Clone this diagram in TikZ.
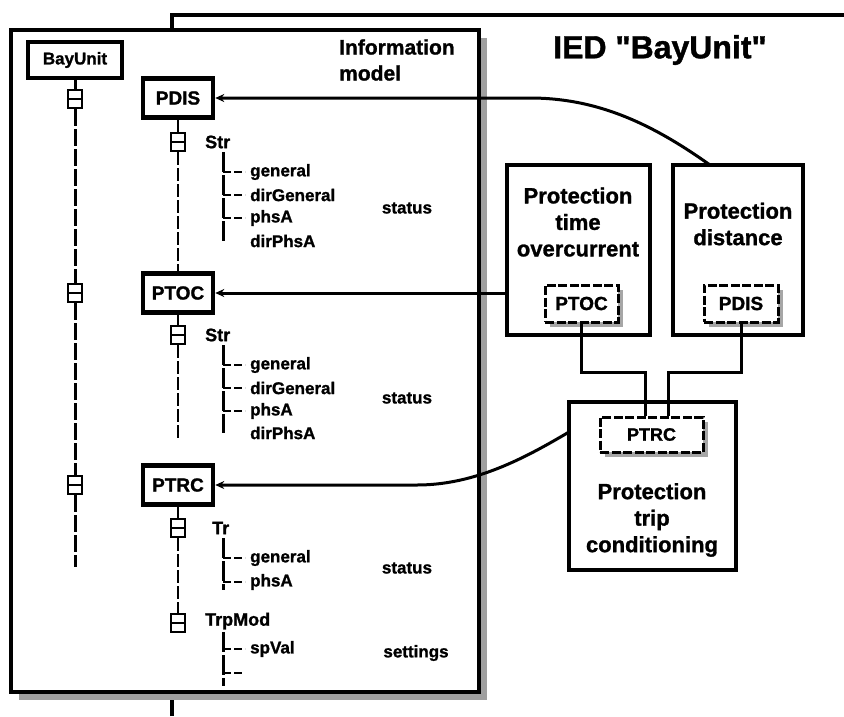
\documentclass[tikz,border=0pt]{standalone}
\usepackage{fontspec}
\setmainfont{Liberation Sans}[BoldFeatures={FakeBold=1.2}]
\newfontfamily\titlefont{Liberation Sans Bold}[Ligatures=ResetAll,FakeBold=1.2]
\usetikzlibrary{arrows.meta,shadows}
\begin{document}
\begin{tikzpicture}[x=1pt,y=-1pt,
  every node/.style={font=\bfseries},
  frame/.style={draw,line width=4pt,fill=white,inner sep=0pt},
  bubox/.style={draw,line width=4pt,fill=white,inner sep=0pt,minimum width=94pt,minimum height=36pt,font=\fontsize{17}{19}\selectfont\bfseries},
  lnbox/.style={draw,line width=4.5pt,fill=white,inner sep=0pt,minimum width=70pt,minimum height=39pt,font=\fontsize{19}{21}\selectfont\bfseries},
  mk/.style={draw,line width=2.5pt,fill=white,inner sep=0pt,minimum width=14pt,minimum height=18pt,
    path picture={\draw[line width=2.5pt] (path picture bounding box.west) -- (path picture bounding box.east);}},
  trunk/.style={line width=3pt,dash pattern=on 17pt off 3pt},
  subtrunk/.style={line width=2pt,dash pattern=on 13pt off 3pt},
  treeline/.style={line width=3pt,dash pattern=on 20pt off 3pt},
  branch/.style={line width=2.5pt,dash pattern=on 8pt off 3pt},
  dotxt/.style={anchor=west,inner sep=0pt,font=\fontsize{18}{20}\selectfont\bfseries},
  leaf/.style={anchor=west,inner sep=0pt,font=\fontsize{17}{19}\selectfont\bfseries},
  stat/.style={inner sep=0pt,font=\fontsize{17}{19}\selectfont\bfseries},
  fnbox/.style={draw,line width=4pt,fill=white,inner sep=0pt},
  fntxt/.style={align=center,inner sep=0pt,font=\fontsize{22}{26.5}\selectfont\bfseries},
  inbox/.style={draw,line width=3pt,dash pattern=on 9pt off 2.5pt,fill=white,inner sep=0pt,minimum height=37pt,
    font=\fontsize{19}{21}\selectfont\bfseries,
    drop shadow={shadow xshift=5pt,shadow yshift=-5pt,fill=gray!70,opacity=1}},
  conn/.style={line width=3pt},
  arr/.style={-{Stealth[length=9pt,width=8pt]}}
]
\fill[white] (0,0) rectangle (844,716);
\useasboundingbox (0,0) rectangle (844,716);

% IED frame
\draw[line width=4pt] (172,716) -- (172,15) -- (848,15);
\node[font=\titlefont\fontsize{32}{34}\selectfont] (ied) at (660,50) {IED "BayUnit"};

% information model frame
\node[frame,minimum width=468pt,minimum height=662pt,
  drop shadow={shadow xshift=8pt,shadow yshift=-8pt,fill=gray!75,opacity=1}] (imf) at (245,361) {};
\node[anchor=west,align=left,inner sep=0pt,font=\fontsize{21}{26}\selectfont\bfseries] (imt) at (339,60) {Information\\model};

% BayUnit trunk
\node[bubox] (bay) at (75,60) {BayUnit};
\node[mk] (m1) at (75,99) {};
\node[mk] (m2) at (75,293) {};
\node[mk] (m3) at (75,485) {};
\coordinate (mend) at (75,567);
\draw[line width=3pt] (bay) -- (m1);
\draw[trunk] (m1) -- (m2);
\draw[trunk] (m2) -- (m3);
\draw[trunk] (m3) -- (mend);

% logical nodes
\node[lnbox] (pdis) at (178,98) {PDIS};
\node[lnbox] (ptoc) at (178,293) {PTOC};
\node[lnbox] (ptrc) at (178,485) {PTRC};
\node[mk] (s1) at (178,142) {};
\node[mk] (s2) at (178,335) {};
\node[mk] (s3) at (178,528) {};
\node[mk] (s4) at (178,623) {};
\coordinate (s2end) at (178,438);
\draw[subtrunk] (pdis) -- (s1);
\draw[subtrunk] (s1) -- (ptoc);
\draw[subtrunk] (ptoc) -- (s2);
\draw[subtrunk] (s2) -- (s2end);
\draw[line width=2pt] (ptrc) -- (s3);
\draw[subtrunk] (s3) -- (s4);

% PDIS data
\node[dotxt] (str1) at (205,142) {Str};
\coordinate (t1a) at (223,152);
\coordinate (t1b) at (223,241);
\draw[treeline] (t1a) -- (t1b);
\node[leaf] (gen1) at (250,172) {general};
\node[leaf] (dg1) at (250,195) {dirGeneral};
\node[leaf] (pa1) at (250,218) {phsA};
\node[leaf] (dpa1) at (250,241) {dirPhsA};
\draw[branch] (gen1.west -| t1a) -- ([xshift=-5pt]gen1.west);
\draw[branch] (dg1.west -| t1a) -- ([xshift=-5pt]dg1.west);
\draw[branch] (pa1.west -| t1a) -- ([xshift=-5pt]pa1.west);
\node[stat] (st1) at (407,208) {status};

% PTOC data
\node[dotxt] (str2) at (205,335) {Str};
\coordinate (t2a) at (223,345);
\coordinate (t2b) at (223,433);
\draw[treeline] (t2a) -- (t2b);
\node[leaf] (gen2) at (250,365) {general};
\node[leaf] (dg2) at (250,388) {dirGeneral};
\node[leaf] (pa2) at (250,411) {phsA};
\node[leaf] (dpa2) at (250,433) {dirPhsA};
\draw[branch] (gen2.west -| t2a) -- ([xshift=-5pt]gen2.west);
\draw[branch] (dg2.west -| t2a) -- ([xshift=-5pt]dg2.west);
\draw[branch] (pa2.west -| t2a) -- ([xshift=-5pt]pa2.west);
\node[stat] (st2) at (407,398) {status};

% PTRC data
\node[dotxt] (tr3) at (212,528) {Tr};
\coordinate (t3a) at (223,538);
\coordinate (t3b) at (223,590);
\draw[treeline] (t3a) -- (t3b);
\node[leaf] (gen3) at (250,558) {general};
\node[leaf] (pa3) at (250,582) {phsA};
\draw[branch] (gen3.west -| t3a) -- ([xshift=-5pt]gen3.west);
\draw[branch] (pa3.west -| t3a) -- ([xshift=-5pt]pa3.west);
\node[stat] (st3) at (407,568) {status};

\node[dotxt] (tm) at (205,621) {TrpMod};
\coordinate (t4a) at (223,632);
\coordinate (t4b) at (223,686);
\coordinate (t4c) at (223,673);
\coordinate (t4d) at (244,673);
\draw[treeline] (t4a) -- (t4b);
\node[leaf] (sp) at (250,649) {spVal};
\draw[branch] (sp.west -| t4a) -- ([xshift=-5pt]sp.west);
\draw[branch] (t4c) -- (t4d);
\node[stat] (set) at (416,653) {settings};

% function boxes
\node[fnbox,minimum width=143pt,minimum height=170pt] (toc) at (578.5,250) {};
\node[fntxt] (tocl) at (578,222) {Protection\\time\\overcurrent};
\node[fnbox,minimum width=130pt,minimum height=170pt] (dis) at (738,250) {};
\node[fntxt] (disl) at (738,224) {Protection\\distance};
\node[fnbox,minimum width=167pt,minimum height=168pt] (trc) at (652.5,486) {};
\node[fntxt] (trcl) at (652,520) {Protection\\trip\\conditioning};

\node[inbox,minimum width=73pt] (itoc) at (581.5,303.5) {PTOC};
\node[inbox,minimum width=74pt] (idis) at (741,303.5) {PDIS};

\coordinate (j1) at (645,372);
\coordinate (j2) at (668,372);
\draw[conn] (itoc.south) |- (j1) -- (j1 |- trc.north);
\draw[conn] (idis.south) |- (j2) -- (j2 |- trc.north);
\node[inbox,minimum width=103pt,minimum height=35pt,font=\fontsize{18}{20}\selectfont\bfseries] (itrc) at (651.5,434.5) {PTRC};
\draw[conn] (j1 |- trc.north) -- (j1 |- itrc.north);
\draw[conn] (j2 |- trc.north) -- (j2 |- itrc.north);

% connectors to the information model
\coordinate (c1) at (710,165);
\coordinate (c3) at (569,432);
\draw[conn,arr] (c1) .. controls (655,126) and (600,98) .. (530,98) -- (pdis.east);
\draw[conn,arr] (ptoc.east -| toc.west) -- (ptoc.east);
\draw[conn,arr] (c3) .. controls (525,458) and (475,485) .. (417,485) -- (ptrc.east);
\end{tikzpicture}
\end{document}
